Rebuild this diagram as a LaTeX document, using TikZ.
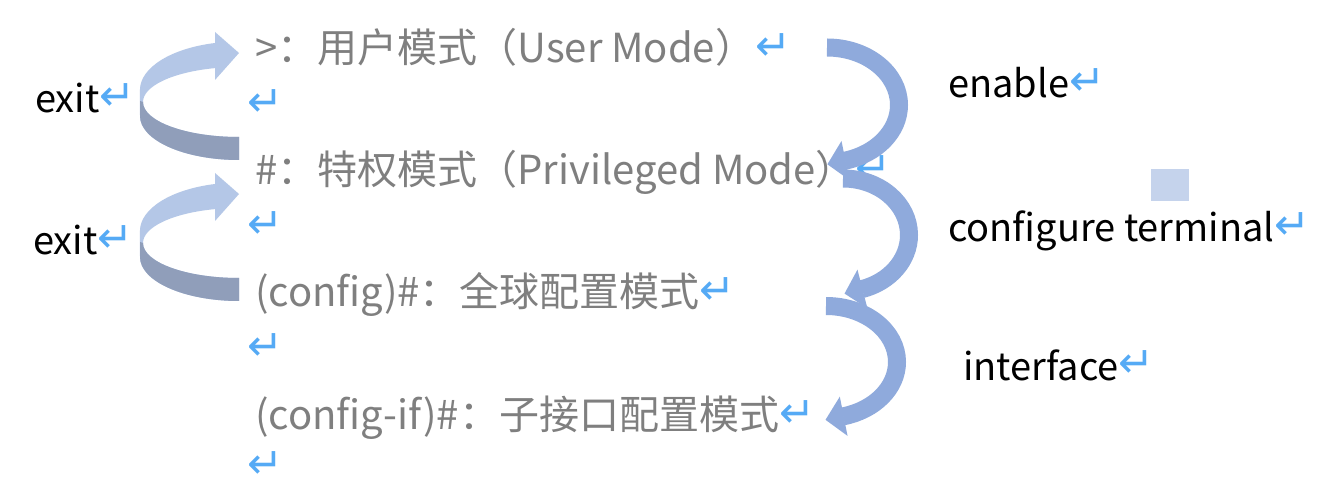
\documentclass[tikz,border=0pt]{standalone}
\usepackage{fontspec}
\setmainfont{Noto Sans CJK SC}
\newfontfamily\retfont{DejaVu Sans}
\usetikzlibrary{decorations.markings}
\definecolor{modegray}{HTML}{7F7F7F}
\definecolor{retblue}{HTML}{55AAF5}
\definecolor{arrowblue}{HTML}{8FAADC}
\definecolor{lightband}{HTML}{B4C7E7}
\definecolor{darkband}{HTML}{909EBA}
\definecolor{squareblue}{HTML}{C5D3EC}
\newcommand{\retglyph}{{\retfont\fontsize{43}{43}\selectfont\textcolor{retblue}{↵}}}
\newcommand{\retmark}{\raisebox{2pt}{\retglyph}}
\tikzset{
  modetext/.style={anchor=base west, inner sep=0pt, text=modegray, font=\fontsize{40}{48}\selectfont},
  cmdtext/.style={anchor=base west, inner sep=0pt, text=black, font=\fontsize{38}{46}\selectfont},
  retonly/.style={anchor=center, inner sep=0pt},
  bluearrow/.style={draw=arrowblue, line width=18pt, postaction={decorate},
    decoration={markings, mark=at position 1 with {\fill[arrowblue] (-0.5pt,20pt) -- (18pt,0pt) -- (-0.5pt,-20pt) -- cycle;}}},
  lightpart/.style={fill=lightband},
  darkpart/.style={fill=darkband},
}
\begin{document}
\begin{tikzpicture}[x=1pt,y=1pt]
\useasboundingbox (0,0) rectangle (1336,-486);
\fill[white] (0,0) rectangle (1336,-486);

% mode lines
\node[modetext] (l1) at (255,-63) {>：用户模式（User Mode）\retmark};
\node[retonly] (r2) at (266,-103) {\retglyph};
\node[modetext] (l3) at (255,-185) {\#：特权模式（Privileged Mode）\retmark};
\node[retonly] (r4) at (266,-225) {\retglyph};
\node[modetext] (l5) at (255,-307) {(config)\#：全球配置模式\retmark};
\node[retonly] (r6) at (266,-347) {\retglyph};
\node[modetext] (l7) at (255,-429) {(config-if)\#：子接口配置模式\retmark};
\node[retonly] (r8) at (266,-465) {\retglyph};

% command labels
\node[cmdtext] (exit1) at (35,-113) {exit\retmark};
\node[cmdtext] (exit2) at (33,-255) {exit\retmark};
\node[cmdtext] (en) at (948,-98) {enable\retmark};
\node[cmdtext] (conf) at (948,-242) {configure terminal\retmark};
\node[cmdtext] (intf) at (963,-380) {interface\retmark};

% small square
\fill[squareblue] (1151,-169) rectangle (1189,-201);

% blue curved arrows
\draw[bluearrow] (827,-47.5) arc[start angle=90, end angle=-75.5, x radius=72, y radius=57.5];
\draw[bluearrow] (843,-178.5) arc[start angle=90, end angle=-73.3, x radius=66, y radius=56.5];
\draw[bluearrow] (826,-306) arc[start angle=90, end angle=-76, x radius=71, y radius=56];

% exit arrows
\foreach \dy in {0,-141}{
\begin{scope}[yshift=\dy]
  \fill[lightpart] (239,-53) -- (215,-32) -- (215,-43)
     arc[start angle=104, end angle=180, x radius=99, y radius=48.45]
     -- (140,-116)
     arc[start angle=180, end angle=270, x radius=99, y radius=44]
     -- (239,-137)
     arc[start angle=270, end angle=104.48, x radius=96, y radius=35]
     -- (215,-80) -- cycle;
  \fill[darkpart] (140,-101) -- (140,-116)
     arc[start angle=180, end angle=270, x radius=99, y radius=44]
     -- (239,-137)
     arc[start angle=270, end angle=180, x radius=96, y radius=35]
     -- cycle;
\end{scope}
}
\end{tikzpicture}
\end{document}
